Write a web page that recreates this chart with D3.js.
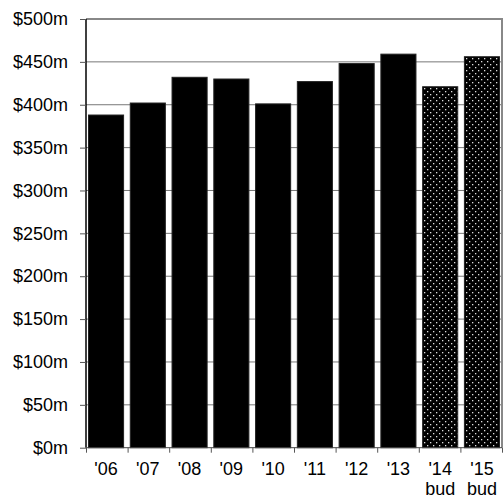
<!DOCTYPE html>
<meta charset="utf-8">
<style>
  body { margin: 0; background: #fff; }
  svg { display: block; font-family: "Liberation Sans", Arial, sans-serif; }
  .grid line { stroke: #777; stroke-width: 1; }
  .axis text { font-size: 18px; fill: #000; }
</style>
<svg width="503" height="497"></svg>
<script src="https://d3js.org/d3.v7.min.js"></script>
<script>
// Data
var years = ["'06", "'07", "'08", "'09", "'10", "'11", "'12", "'13", "'14", "'15"];
var subLabels = ["", "", "", "", "", "", "", "", "bud", "bud"];
var spend = [388, 402, 432, 430, 401, 427, 448, 459, 421, 456];
var budget = [false, false, false, false, false, false, false, false, true, true];
var yTicks = [0, 50, 100, 150, 200, 250, 300, 350, 400, 450, 500];

var svg = d3.select("svg"),
    plotL = 86, plotR = 502, plotT = 19, plotB = 447.7;

// dotted fill for the budget bars
var pat = svg.append("defs").append("pattern")
    .attr("id", "dots")
    .attr("patternUnits", "userSpaceOnUse")
    .attr("width", 6).attr("height", 6);
pat.append("rect").attr("width", 6).attr("height", 6).attr("fill", "#000");
pat.append("rect").attr("x", 1).attr("y", 1).attr("width", 1.3).attr("height", 1.3).attr("fill", "#ddd");
pat.append("rect").attr("x", 4).attr("y", 4).attr("width", 1.3).attr("height", 1.3).attr("fill", "#ddd");

var x = d3.scaleBand()
    .domain(years)
    .range([plotL, plotR])
    .paddingInner(0.16)
    .paddingOuter(0.06);

var xEdges = d3.scaleLinear().domain([0, years.length]).range([plotL, plotR]);

var y = d3.scaleLinear().domain([0, 500]).range([plotB, plotT]);

// gridlines
svg.append("g")
    .attr("class", "grid")
    .selectAll("line")
    .data(yTicks.slice(1, -1))
    .enter().append("line")
    .attr("x1", plotL).attr("x2", plotR)
    .attr("y1", function(d) { return y(d); })
    .attr("y2", function(d) { return y(d); });

// top and right frame
svg.append("line")
    .attr("x1", plotL).attr("x2", plotR + 1)
    .attr("y1", y(500)).attr("y2", y(500))
    .attr("stroke", "#888").attr("stroke-width", 2);
svg.append("line")
    .attr("x1", plotR).attr("x2", plotR)
    .attr("y1", y(500)).attr("y2", plotB)
    .attr("stroke", "#888").attr("stroke-width", 2);

// bars
svg.append("g")
    .selectAll("rect")
    .data(spend)
    .enter().append("rect")
    .attr("x", function(d, i) { return x(years[i]); })
    .attr("width", x.bandwidth())
    .attr("y", function(d) { return y(d); })
    .attr("height", function(d) { return plotB - y(d); })
    .attr("fill", function(d, i) { return budget[i] ? "url(#dots)" : "#000"; })
    .attr("stroke", "#222")
    .attr("stroke-width", 1);

// y axis
var yAxis = svg.append("g")
    .attr("class", "axis")
    .attr("transform", "translate(" + plotL + ",0)")
    .call(d3.axisLeft(y).tickValues(yTicks).tickSize(6).tickPadding(12)
        .tickFormat(function(d) { return "$" + d + "m"; }));
yAxis.select(".domain").attr("stroke", "#000").attr("stroke-width", 1.5)
    .attr("d", "M0," + plotB + "V" + plotT);
yAxis.selectAll(".tick line").attr("stroke", "#555");

// x axis: ticks at category edges
var xTicks = svg.append("g")
    .attr("transform", "translate(0," + plotB + ")")
    .call(d3.axisBottom(xEdges).tickValues(d3.range(years.length + 1)).tickSize(5).tickFormat(""));
xTicks.select(".domain").attr("stroke", "#444").attr("d", "M" + plotL + ",0H" + plotR);
xTicks.selectAll(".tick line").attr("stroke", "#555");

// x labels
var xLab = svg.append("g").attr("class", "axis");
xLab.selectAll("text.yr")
    .data(years)
    .enter().append("text")
    .attr("class", "yr")
    .attr("x", function(d) { return x(d) + x.bandwidth() / 2; })
    .attr("y", 475)
    .attr("text-anchor", "middle")
    .text(function(d) { return d; });
xLab.selectAll("text.sub")
    .data(subLabels)
    .enter().append("text")
    .attr("class", "sub")
    .attr("x", function(d, i) { return x(years[i]) + x.bandwidth() / 2; })
    .attr("y", 495)
    .attr("text-anchor", "middle")
    .text(function(d) { return d; });
</script>
